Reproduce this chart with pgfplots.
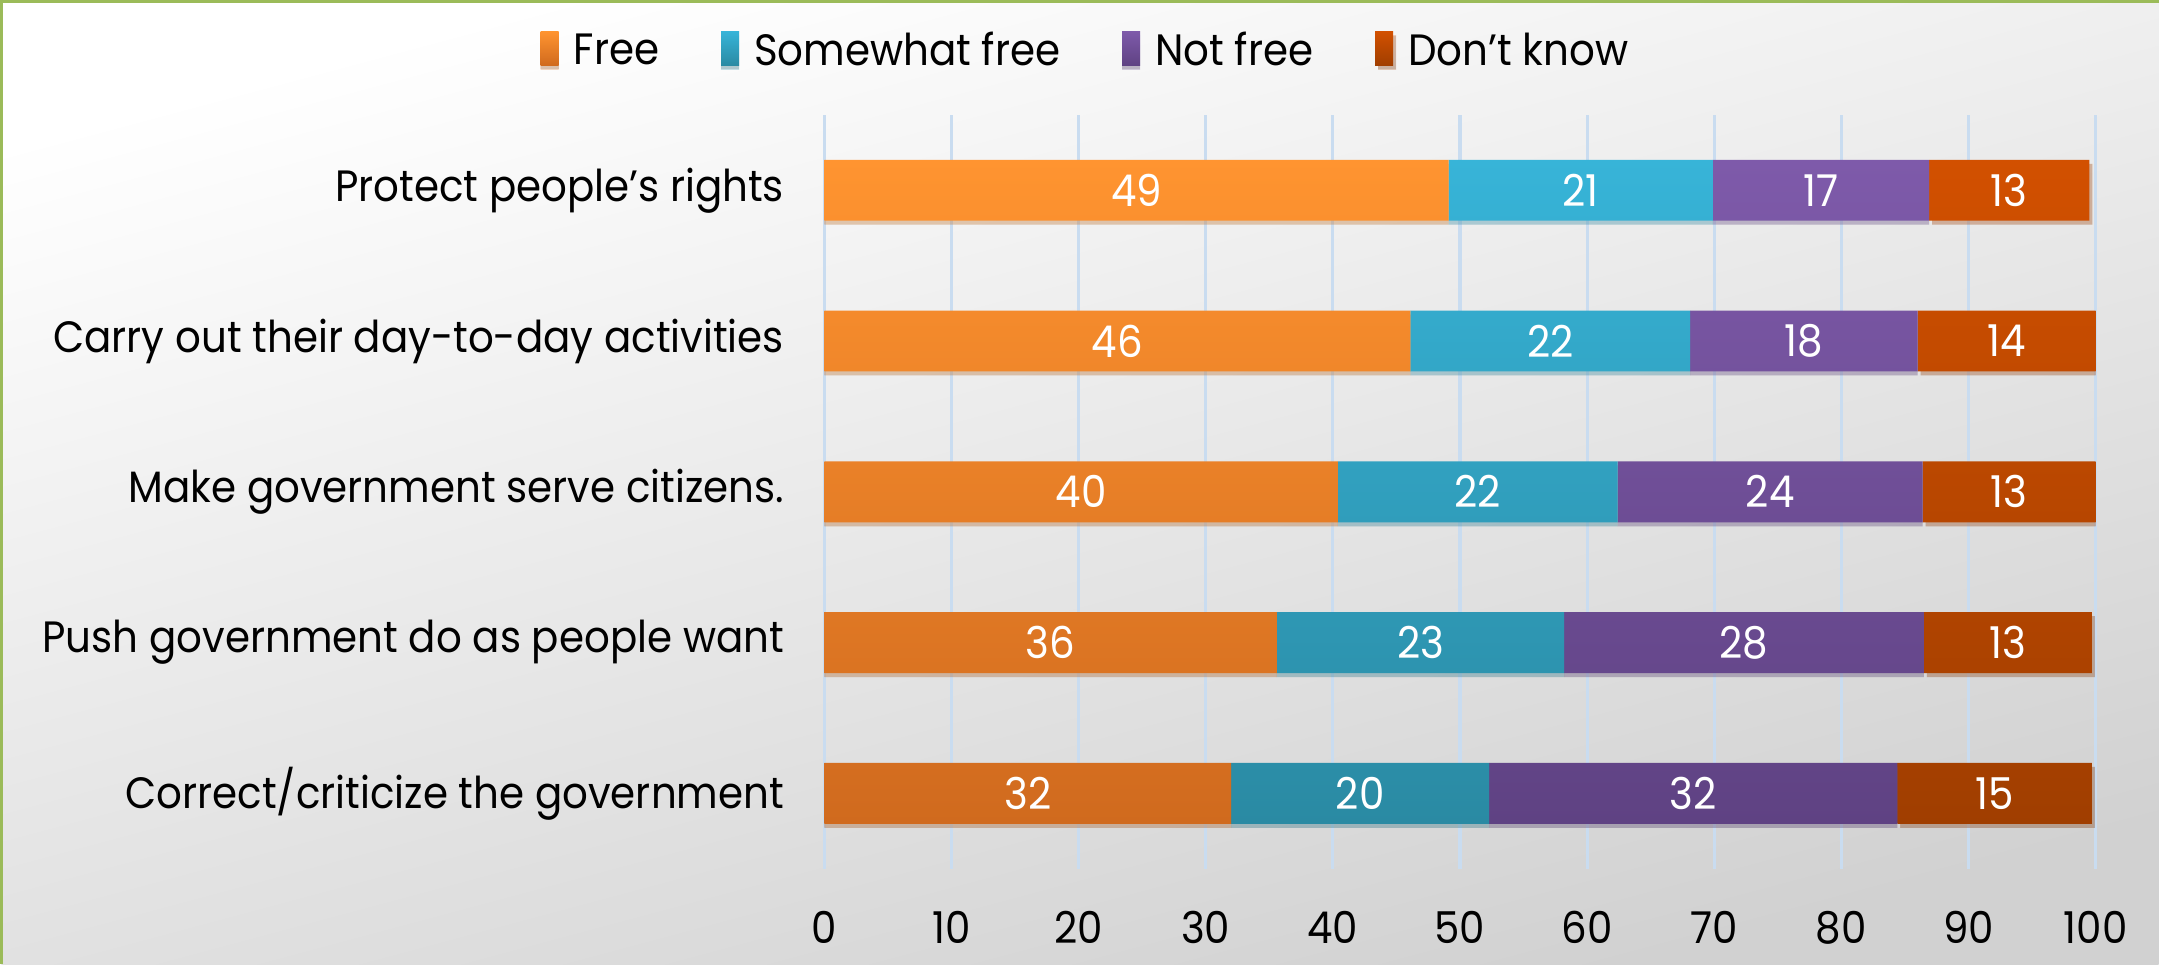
\documentclass[border=0pt]{standalone}
\usepackage{pgfplots}
\pgfplotsset{compat=1.18}
\usetikzlibrary{shadows}
\usepackage{fontspec}
\setmainfont{Poppins}[FakeStretch=0.92]
\definecolor{frT}{HTML}{FF9430}\definecolor{frB}{HTML}{D06A1E}
\definecolor{swT}{HTML}{37B4D8}\definecolor{swB}{HTML}{2A8AA3}
\definecolor{nfT}{HTML}{7E5AAA}\definecolor{nfB}{HTML}{5F4283}
\definecolor{dkT}{HTML}{D25000}\definecolor{dkB}{HTML}{A03E00}
\definecolor{gridblue}{HTML}{C9DCF0}
\definecolor{frame}{HTML}{9BBB59}
\newcommand{\legsq}[2]{\fill[top color=#1, bottom color=#2] (0cm,-0.14cm) rectangle (0.18cm,0.2cm); \path (0.26cm,0cm);}
\begin{document}
\begin{tikzpicture}[x=1cm,y=1cm]
\shade[top color=white, bottom color=black!18, shading angle=15] (0,0) rectangle (21.6,9.64);
\draw[frame, line width=0.03cm] (0,0) -- (0,9.64) -- (21.6,9.64);
\begin{axis}[
  at={(8.24cm,0.955cm)}, anchor=south west,
  width=12.73cm, height=7.55cm, scale only axis,
  xbar stacked, bar width=0.61cm,
  xmin=0, xmax=100, ymin=-0.5, ymax=4.5,
  xtick={0,10,...,100}, ytick={0,1,2,3,4},
  yticklabels={Correct/criticize the government, Push government do as people want, Make government serve citizens., Carry out their day-to-day activities, Protect people’s rights},
  axis line style={draw=none}, major tick style={draw=none},
  xmajorgrids, grid style={color=gridblue, line width=0.9pt},
  /pgf/number format/assume math mode=true,
  tick label style={font=\fontsize{12.5}{14}\selectfont, text=black},
  xticklabel style={yshift=-0.3cm},
  yticklabel style={xshift=-0.28cm},
  point meta=explicit symbolic, nodes near coords,
  every node near coord/.append style={anchor=center, text=white, font=\fontsize{12.5}{14}\selectfont},
  legend style={at={(0.2074,1.084)}, anchor=center, draw=none, fill=none, font=\fontsize{12.5}{14}\selectfont, /tikz/every even column/.append style={column sep=0.55cm}},
  legend columns=4,
]
\addplot[draw=none, top color=frT, bottom color=frB, drop shadow={shadow xshift=0cm, shadow yshift=-0.04cm, opacity=0.25}, legend image code/.code={\legsq{frT}{frB}}] coordinates {(32.0,0) [32] (35.6,1) [36] (40.4,2) [40] (46.1,3) [46] (49.1,4) [49]};
\addplot[draw=none, top color=swT, bottom color=swB, drop shadow={shadow xshift=0cm, shadow yshift=-0.04cm, opacity=0.25}, legend image code/.code={\legsq{swT}{swB}}] coordinates {(20.3,0) [20] (22.6,1) [23] (22.0,2) [22] (22.0,3) [22] (20.8,4) [21]};
\addplot[draw=none, top color=nfT, bottom color=nfB, drop shadow={shadow xshift=0cm, shadow yshift=-0.04cm, opacity=0.25}, legend image code/.code={\legsq{nfT}{nfB}}] coordinates {(32.1,0) [32] (28.3,1) [28] (24.0,2) [24] (17.9,3) [18] (17.0,4) [17]};
\addplot[draw=none, top color=dkT, bottom color=dkB, drop shadow={shadow xshift=0.03cm, shadow yshift=-0.04cm, opacity=0.25}, legend image code/.code={\legsq{dkT}{dkB}}] coordinates {(15.3,0) [15] (13.2,1) [13] (13.6,2) [13] (14.0,3) [14] (12.6,4) [13]};
\legend{Free, Somewhat free, Not free, Don’t know}
\end{axis}
\end{tikzpicture}
\end{document}
